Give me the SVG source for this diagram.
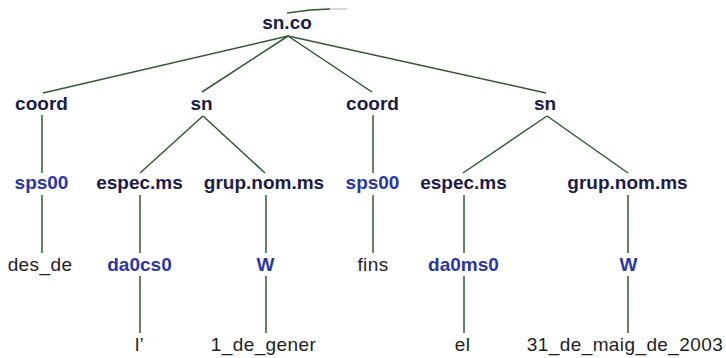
<svg xmlns="http://www.w3.org/2000/svg" width="726" height="358" viewBox="0 0 726 358">
<style>
  text { font-family: "Liberation Sans", Arial, sans-serif; font-size: 19px; text-anchor: middle; }
  .cat { font-weight: bold; fill: #1c1c48; }
  .tag { font-weight: bold; fill: #2a35a8; }
  .word { fill: #1e1e1e; letter-spacing: 0.4px; }
  .edge { stroke: #2f5a2f; stroke-width: 1.5; fill: none; }
</style>
<rect width="726" height="358" fill="#ffffff"/>
<g id="connectors">
  <path class="edge" d="M287 13 L310 10 L330 9"/>
  <path d="M330 9 L347 9" stroke="#b8c0b8" stroke-width="1.2" fill="none"/>
  <line class="edge" x1="288" y1="36" x2="43" y2="93"/>
  <line class="edge" x1="288" y1="36" x2="202" y2="92"/>
  <line class="edge" x1="288" y1="36" x2="372" y2="92"/>
  <line class="edge" x1="288" y1="36" x2="546" y2="93"/>
  <line class="edge" x1="42" y1="115" x2="42" y2="173"/>
  <line class="edge" x1="203" y1="116" x2="140" y2="173"/>
  <line class="edge" x1="203" y1="116" x2="265" y2="173"/>
  <line class="edge" x1="373" y1="115" x2="373" y2="173"/>
  <line class="edge" x1="547" y1="116" x2="463" y2="173"/>
  <line class="edge" x1="547" y1="116" x2="628" y2="173"/>
  <line class="edge" x1="42" y1="195" x2="42" y2="253"/>
  <line class="edge" x1="140" y1="195" x2="140" y2="253"/>
  <line class="edge" x1="266" y1="195" x2="266" y2="253"/>
  <line class="edge" x1="373" y1="195" x2="373" y2="253"/>
  <line class="edge" x1="464" y1="195" x2="464" y2="253"/>
  <line class="edge" x1="628" y1="195" x2="628" y2="253"/>
  <line class="edge" x1="140" y1="276" x2="140" y2="333"/>
  <line class="edge" x1="266" y1="276" x2="266" y2="333"/>
  <line class="edge" x1="464" y1="276" x2="464" y2="333"/>
  <line class="edge" x1="628" y1="276" x2="628" y2="333"/>
</g>
<g id="n-root"><text class="cat" x="287" y="29">sn.co</text></g>
<g id="n-coord1"><text class="cat" x="41.5" y="110">coord</text></g>
<g id="n-sn1"><text class="cat" x="201.5" y="110">sn</text></g>
<g id="n-coord2"><text class="cat" x="372.5" y="110">coord</text></g>
<g id="n-sn2"><text class="cat" x="545" y="110">sn</text></g>
<g id="n-sps1"><text class="tag" x="41.5" y="189">sps00</text></g>
<g id="n-espec1"><text class="cat" x="139.5" y="189">espec.ms</text></g>
<g id="n-grup1"><text class="cat" x="264" y="189">grup.nom.ms</text></g>
<g id="n-sps2"><text class="tag" x="372.5" y="189">sps00</text></g>
<g id="n-espec2"><text class="cat" x="463.5" y="189">espec.ms</text></g>
<g id="n-grup2"><text class="cat" x="627.5" y="189">grup.nom.ms</text></g>
<g id="n-desde"><text class="word" x="40" y="271">des_de</text></g>
<g id="n-da0cs0"><text class="tag" x="139.5" y="271">da0cs0</text></g>
<g id="n-W1"><text class="tag" x="265.5" y="271">W</text></g>
<g id="n-fins"><text class="word" x="373" y="271">fins</text></g>
<g id="n-da0ms0"><text class="tag" x="463.5" y="271">da0ms0</text></g>
<g id="n-W2"><text class="tag" x="628.5" y="271">W</text></g>
<g id="n-l"><text class="word" x="139.5" y="351">l’</text></g>
<g id="n-1degener"><text class="word" x="263.5" y="351">1_de_gener</text></g>
<g id="n-el"><text class="word" x="462.5" y="351">el</text></g>
<g id="n-31"><text class="word" x="625" y="351">31_de_maig_de_2003</text></g>
</svg>
